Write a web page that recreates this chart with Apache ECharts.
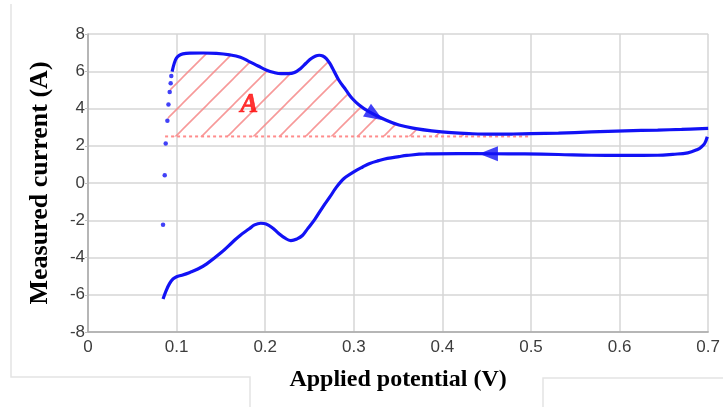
<!DOCTYPE html>
<html>
<head>
<meta charset="utf-8">
<script src="https://cdn.jsdelivr.net/npm/echarts@6/dist/echarts.min.js"></script>
<style>
html,body{margin:0;padding:0;background:#fff;}
#chart{width:723px;height:407px;}
</style>
</head>
<body>
<div id="chart"></div>
<script>
// ---- data ----
var xTicks = [0, 0.7, 0.1];       // min, max, step
var yTicks = [-8, 8, 2];          // min, max, step

// sparse start-up points of the forward scan
var dotsX = [0.0847, 0.0866, 0.0877, 0.0896, 0.0908, 0.0922, 0.0933, 0.094];
var dotsY = [-2.24, 0.41, 2.12, 3.34, 4.22, 4.89, 5.35, 5.75];

// forward scan (left -> right)
var fwdX = [0.0949, 0.0975, 0.0998, 0.103, 0.107, 0.115, 0.13, 0.145, 0.16, 0.172, 0.182, 0.192, 0.201, 0.21, 0.218, 0.226, 0.233, 0.24, 0.246, 0.252, 0.257, 0.261, 0.265, 0.269, 0.273, 0.276, 0.283, 0.291, 0.298, 0.306, 0.317, 0.336, 0.351, 0.37, 0.388, 0.41, 0.43, 0.456, 0.48, 0.5, 0.531, 0.568, 0.606, 0.643, 0.67, 0.7];
var fwdY = [5.98, 6.45, 6.70, 6.85, 6.93, 6.97, 6.98, 6.96, 6.88, 6.75, 6.52, 6.28, 6.07, 5.93, 5.87, 5.87, 5.93, 6.15, 6.43, 6.68, 6.82, 6.86, 6.82, 6.68, 6.42, 6.16, 5.53, 5.0, 4.55, 4.19, 3.83, 3.38, 3.11, 2.92, 2.80, 2.70, 2.65, 2.62, 2.63, 2.65, 2.68, 2.74, 2.8, 2.84, 2.88, 2.93];

// return scan (right -> left)
var revX = [0.699, 0.696, 0.692, 0.688, 0.677, 0.66, 0.643, 0.606, 0.568, 0.531, 0.493, 0.456, 0.418, 0.381, 0.36, 0.351, 0.338, 0.328, 0.318, 0.31, 0.3, 0.291, 0.287, 0.28, 0.273, 0.265, 0.256, 0.248, 0.242, 0.236, 0.229, 0.222, 0.215, 0.208, 0.201, 0.195, 0.188, 0.182, 0.172, 0.163, 0.15, 0.134, 0.124, 0.115, 0.106, 0.1, 0.096, 0.092, 0.088, 0.0847];
var revY = [2.48, 2.12, 1.92, 1.8, 1.62, 1.54, 1.49, 1.48, 1.49, 1.53, 1.56, 1.57, 1.58, 1.56, 1.48, 1.42, 1.32, 1.2, 1.05, 0.86, 0.6, 0.32, 0.15, -0.25, -0.75, -1.29, -1.95, -2.45, -2.82, -3.0, -3.09, -2.95, -2.7, -2.4, -2.2, -2.16, -2.25, -2.46, -2.8, -3.18, -3.75, -4.34, -4.62, -4.8, -4.95, -5.03, -5.15, -5.4, -5.8, -6.23];

// hatched region "A": above a baseline current
var baseline = 2.5;
var baselineX = [0.087, 0.5];
var hatchEndX = 0.43;
var labelA = {text: 'A', x: 0.182, y: 4.19};

// direction arrows: [x, y, direction in degrees]
var arrowX = [0.324, 0.452];
var arrowY = [3.64, 1.57];
var arrowDir = [-122, 90];

var xName = 'Applied potential (V)';
var yName = 'Measured current (A)';

// ---- build ----
function zip(a, b) { return a.map(function (v, i) { return [v, b[i]]; }); }
var dots = zip(dotsX, dotsY);
var fwd = zip(fwdX, fwdY);
var rev = zip(revX, revY);
var hatch = dots.concat(fwd).filter(function (p) { return p[1] >= baseline && p[0] <= hatchEndX; });

// hatch pattern
var pc = document.createElement('canvas');
var S = 26;
pc.width = S; pc.height = S;
var g = pc.getContext('2d');
g.strokeStyle = 'rgba(246,135,135,0.85)';
g.lineWidth = 1.6;
g.beginPath();
g.moveTo(-S / 2, S / 2); g.lineTo(S / 2, -S / 2);
g.moveTo(0, S); g.lineTo(S, 0);
g.moveTo(S / 2, 1.5 * S); g.lineTo(1.5 * S, S / 2);
g.stroke();

var blue = '#1212f5';
var tickFont = {color: '#3c3c3c', fontSize: 17, fontFamily: 'Liberation Sans, Arial'};
var serif = 'Liberation Serif, Times New Roman';

var chart = echarts.init(document.getElementById('chart'), null, {renderer: 'canvas'});
chart.setOption({
  animation: false,
  backgroundColor: '#fff',
  grid: {left: 88, right: 13, top: 34, bottom: 75, show: false},
  xAxis: {
    type: 'value', min: xTicks[0], max: xTicks[1], interval: xTicks[2],
    name: xName, nameLocation: 'middle', nameGap: 36,
    nameTextStyle: {fontFamily: serif, fontWeight: 'bold', fontSize: 24, color: '#000'},
    axisLine: {show: true, onZero: false, lineStyle: {color: '#a8a8a8', width: 1.5}},
    axisTick: {show: false},
    axisLabel: Object.assign({margin: 7}, tickFont),
    splitLine: {show: true, lineStyle: {color: '#d6d6d6', width: 1.5}}
  },
  yAxis: {
    type: 'value', min: yTicks[0], max: yTicks[1], interval: yTicks[2],
    name: yName, nameLocation: 'middle', nameGap: 35, nameRotate: 90,
    nameTextStyle: {fontFamily: serif, fontWeight: 'bold', fontSize: 26, color: '#000'},
    axisLine: {show: true, onZero: false, lineStyle: {color: '#a8a8a8', width: 1.5}},
    axisTick: {show: true, length: 3, lineStyle: {color: '#bdbdbd'}},
    axisLabel: Object.assign({margin: 3}, tickFont),
    splitLine: {show: true, lineStyle: {color: '#d6d6d6', width: 1.5}}
  },
  series: [
    {
      type: 'line', data: hatch, showSymbol: false, z: 1, silent: true,
      lineStyle: {width: 0, opacity: 0},
      areaStyle: {origin: baseline, color: {image: pc, repeat: 'repeat'}, opacity: 1}
    },
    {
      type: 'line', data: baselineX.map(function (x) { return [x, baseline]; }),
      showSymbol: false, z: 2,
      lineStyle: {color: '#ff8c8c', width: 2, type: [3, 3]}
    },
    {
      type: 'line', data: fwd, showSymbol: false, z: 5,
      lineStyle: {color: blue, width: 3.2}, smooth: 0.4
    },
    {
      type: 'line', data: rev, showSymbol: false, z: 5,
      lineStyle: {color: blue, width: 3.2}, smooth: 0.4
    },
    {
      type: 'scatter', data: dots, symbol: 'circle', symbolSize: 4.5, z: 5,
      itemStyle: {color: blue}
    },
    {
      type: 'scatter', z: 6,
      data: arrowX.map(function (x, i) { return {value: [x, arrowY[i]], symbolRotate: arrowDir[i]}; }),
      symbol: 'triangle', symbolSize: [15, 19],
      itemStyle: {color: blue}
    },
    {
      type: 'scatter', z: 7, symbolSize: 1, itemStyle: {color: 'rgba(0,0,0,0)'},
      data: [[labelA.x, labelA.y]],
      label: {show: true, position: 'inside', formatter: labelA.text, color: '#ff0000',
        fontFamily: serif, fontStyle: 'italic', fontWeight: 'bold', fontSize: 27,
        textBorderColor: '#ff0000', textBorderWidth: 0.6}
    }
  ],
  graphic: [
    {type: 'polyline', silent: true, shape: {points: [[11, 4], [11, 377], [250, 377], [250, 407]]}, style: {stroke: '#e4e4e4', fill: null, lineWidth: 1.5}},
    {type: 'polyline', silent: true, shape: {points: [[543, 407], [543, 378], [723, 378]]}, style: {stroke: '#e4e4e4', fill: null, lineWidth: 1.5}}
  ]
});
</script>
</body>
</html>
